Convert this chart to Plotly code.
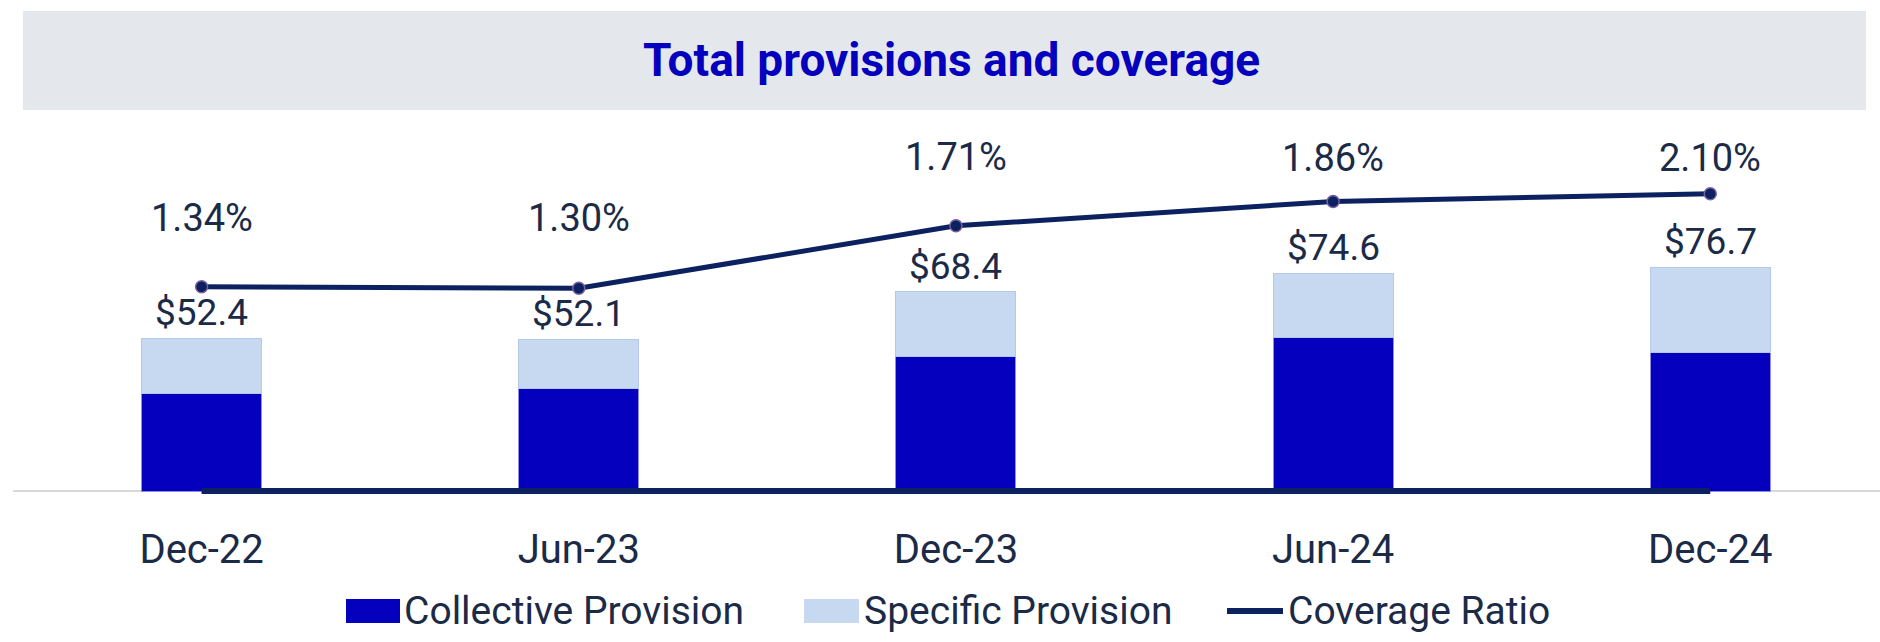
import plotly.graph_objects as go

# ---- data ----
categories = ["Dec-22", "Jun-23", "Dec-23", "Jun-24", "Dec-24"]
collective = [33.3, 35.2, 46.2, 52.6, 47.6]
specific = [19.1, 16.9, 22.2, 22.0, 29.1]
total_labels = ["$52.4", "$52.1", "$68.4", "$74.6", "$76.7"]
coverage_plotted = [1.34, 1.33, 1.74, 1.90, 1.95]
coverage_labels = ["1.34%", "1.30%", "1.71%", "1.86%", "2.10%"]

# ---- styles ----
C_COLL = "#0400BE"
C_SPEC = "#C6D9F1"
C_LINE = "#0B2160"
C_TEXT = "#1B2A47"
C_BANNER = "#E4E8EC"
FONT = "Roboto"

W, H = 1880, 642
BASE = 491          # pixel row of the zero baseline
PAD = 5             # pixels of plot area kept below the baseline
ML, MR, MT = 13, 0, 110
MB = H - BASE - PAD
PW, PH = W - ML - MR, H - MT - MB
PPU = 2.916         # pixels per $ unit
PPU2 = 152.4        # pixels per coverage unit

def px_x(px):
    return (px - ML) / PW

def px_y(py):
    return (H - MB - py) / PH

totals = [c + s for c, s in zip(collective, specific)]

fig = go.Figure()
fig.add_trace(go.Bar(x=categories, y=collective, name="Collective Provision",
                     marker=dict(color=C_COLL, line=dict(color="#8E8EE0", width=1)),
                     width=0.318, showlegend=False, hoverinfo="skip"))
fig.add_trace(go.Bar(x=categories, y=specific, name="Specific Provision",
                     marker=dict(color=C_SPEC, line=dict(color="#B4C8EA", width=1)),
                     width=0.318, showlegend=False, hoverinfo="skip"))
# baseline segment of the coverage series
fig.add_trace(go.Scatter(x=categories, y=[0] * len(categories), yaxis="y2",
                         mode="lines", line=dict(color=C_LINE, width=6),
                         cliponaxis=False, showlegend=False, hoverinfo="skip"))
fig.add_trace(go.Scatter(x=categories, y=coverage_plotted, yaxis="y2",
                         name="Coverage Ratio", mode="lines+markers",
                         line=dict(color=C_LINE, width=5),
                         marker=dict(size=12, color=C_LINE, line=dict(color="#7B5FA0", width=1.5)),
                         cliponaxis=False, showlegend=False, hoverinfo="skip"))

annotations = []
for cat, t, lab in zip(categories, totals, total_labels):
    annotations.append(dict(x=cat, y=t, xref="x", yref="y", text=lab, showarrow=False,
                            yanchor="bottom", yshift=2,
                            font=dict(family=FONT, size=37, color=C_TEXT)))
pct_label_py = [218, 218, 157, 158, 158]
for cat, lab, py in zip(categories, coverage_labels, pct_label_py):
    annotations.append(dict(x=cat, y=px_y(py), xref="x", yref="paper", text=lab,
                            showarrow=False, yanchor="middle",
                            font=dict(family=FONT, size=38, color=C_TEXT)))
annotations.append(dict(x=px_x(952), y=px_y(60), xref="paper", yref="paper",
                        text="<b>Total provisions and coverage</b>", showarrow=False,
                        yanchor="middle", xanchor="center",
                        font=dict(family=FONT, size=46, color=C_COLL)))

shapes = [dict(type="rect", xref="paper", yref="paper", x0=px_x(23), x1=px_x(1866),
               y0=px_y(110), y1=px_y(11), fillcolor=C_BANNER, line=dict(width=0), layer="below")]

leg_y = 611
legend_items = [("Collective Provision", "box", C_COLL, 346, 400, 403),
                ("Specific Provision", "box", C_SPEC, 804, 859, 863),
                ("Coverage Ratio", "line", C_LINE, 1227, 1283, 1287)]
for name, kind, col, x0, x1, tx in legend_items:
    if kind == "box":
        shapes.append(dict(type="rect", xref="paper", yref="paper", x0=px_x(x0), x1=px_x(x1),
                           y0=px_y(623), y1=px_y(599), fillcolor=col, line=dict(width=0)))
    else:
        shapes.append(dict(type="line", xref="paper", yref="paper", x0=px_x(x0), x1=px_x(x1),
                           y0=px_y(leg_y), y1=px_y(leg_y), line=dict(color=col, width=6)))
    annotations.append(dict(x=px_x(tx), y=px_y(leg_y), xref="paper", yref="paper", text=name,
                            showarrow=False, xanchor="left", yanchor="middle", borderpad=0,
                            font=dict(family=FONT, size=39, color=C_TEXT)))

fig.update_layout(
    width=W, height=H, margin=dict(l=ML, r=MR, t=MT, b=MB),
    barmode="stack", plot_bgcolor="white", paper_bgcolor="white",
    font=dict(family=FONT, color=C_TEXT),
    xaxis=dict(range=[-0.5, 4.45], showgrid=False, showline=False,
               ticks="outside", ticklen=0, tickcolor="rgba(0,0,0,0)",
               ticklabelstandoff=18, tickfont=dict(family=FONT, size=40, color=C_TEXT),
               zeroline=False),
    yaxis=dict(range=[-PAD / PPU, (PH - PAD) / PPU], showgrid=False, showticklabels=False,
               ticks="", zeroline=True, zerolinecolor="#D9D9D9", zerolinewidth=2,
               layer="below traces"),
    yaxis2=dict(range=[-PAD / PPU2, (PH - PAD) / PPU2], overlaying="y", side="right",
                visible=False, showgrid=False, zeroline=False),
    shapes=shapes, annotations=annotations, showlegend=False,
)

fig.write_html("out.html", config={"displayModeBar": False},
               post_script="document.body.style.margin='0';document.body.style.overflow='hidden';")
